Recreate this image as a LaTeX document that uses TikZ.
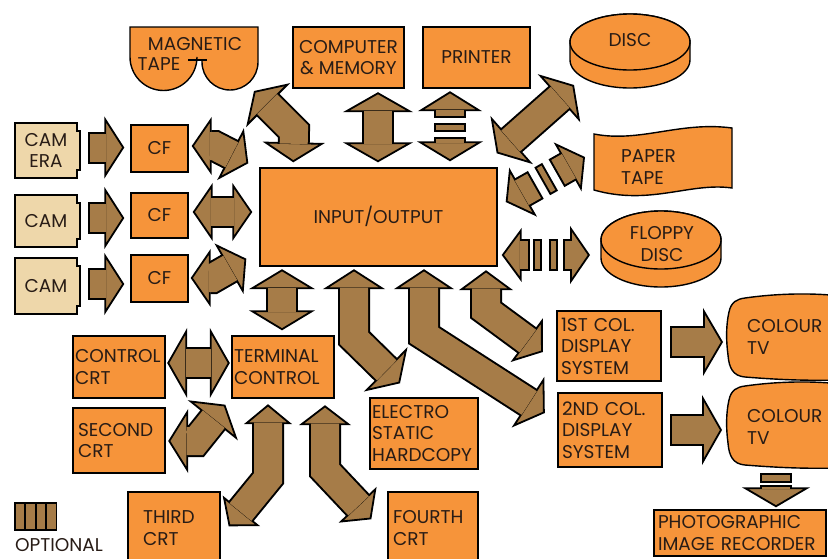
\documentclass[tikz,border=0pt]{standalone}
\usepackage{fontspec}
\setmainfont{Poppins}
\usetikzlibrary{arrows.meta,calc}

\definecolor{orng}{RGB}{246,148,58}
\definecolor{brn}{RGB}{166,124,72}
\definecolor{camtan}{RGB}{238,215,170}
\definecolor{ink}{RGB}{40,28,22}

\newcommand{\lbl}{\fontsize{18.5}{21.5}\selectfont}

\tikzset{
  box/.style={draw=black, line width=1.4pt, fill=orng, text=ink, font=\lbl,
    inner sep=3pt, align=center},
  outline/.style={draw=black, line width=1.4pt, fill=orng},
  txt/.style={text=ink, font=\lbl, inner sep=0pt, align=left},
  pipe/.style={draw=black, line width=32pt, line join=miter,
    >={Triangle[length=20pt, width=#1, fill=brn, color=black, line width=1.8pt]}},
  pipe/.default=64pt,
  twoway/.style={pipe=#1, <->,
    postaction={draw=brn, line width=28pt, arrows=-, shorten <=18.5pt, shorten >=18.5pt}},
  twoway/.default=64pt,
  oneway/.style={pipe=#1, ->,
    postaction={draw=brn, line width=28pt, arrows=-, shorten <=2pt, shorten >=18.5pt}},
  oneway/.default=64pt,
  optbar/.style={draw=black, line width=32pt,
    postaction={draw=brn, line width=28pt, shorten <=2pt, shorten >=2pt}},
}

% camera body with its small step on the right
\newcommand{\camera}[4]{%
  \draw[draw=black, line width=1.4pt, fill=camtan] (15,#2) -- (77,#2) -- (77,#2+8)
    -- (80,#2+8) -- (80,#3-8) -- (77,#3-8) -- (77,#3) -- (15,#3) -- cycle;
  \node[txt, align=center] (#1) at (46,{(#2+#3)/2}) {#4};}

% colour television screen
\newcommand{\telly}[1]{%
  \draw[outline] (745,#1+1) .. controls (780,#1-4) and (815,#1-4) .. (840,#1-1)
    -- (840,#1+83) .. controls (800,#1+84) and (770,#1+82) .. (745,#1+80)
    .. controls (733,#1+79) and (729,#1+71) .. (728,#1+58)
    .. controls (726,#1+43) and (726,#1+28) .. (729,#1+15)
    .. controls (731,#1+5) and (737,#1+2) .. (745,#1+1) -- cycle;}

\begin{document}
\begin{tikzpicture}[x=1pt, y=-1pt]
\useasboundingbox[fill=white] (0,0) rectangle (828,558);

% Top row: storage and computer
\draw[outline] (130,27) -- (258,27) -- (258,62) arc[start angle=0, end angle=180, radius=28]
  -- (202,60) -- (197,60) -- (197,57) arc[start angle=0, end angle=180, radius=33.5] -- cycle;
\draw[line width=1.4pt] (188,60) -- (207,60);
\node[txt] (mag) at (195,44) {MAGNETIC};
\node[txt] (magb) at (159,64) {TAPE};

\node[box, minimum width=111pt, minimum height=61pt] (comp) at (348.5,57.5) {COMPUTER\\\& MEMORY};
\node[box, minimum width=107pt, minimum height=61pt] (prn) at (476.5,57.5) {PRINTER};

\draw[outline] (570,42) -- (570,60) arc[start angle=180, end angle=0, x radius=60, y radius=28]
  -- (690,42) arc[start angle=0, end angle=-180, x radius=60, y radius=28] -- cycle;
\draw[outline] (630,42) ellipse [x radius=60, y radius=28];
\node[txt] (disc) at (630,40) {DISC};

% Right side: paper tape and floppy disc
\draw[outline] (594,134) .. controls (640,143) and (680,121) .. (732,128) -- (732,188)
  .. controls (690,182) and (650,206) .. (594,190) -- cycle;
\node[txt, anchor=west] (ppr) at (621,167) {PAPER\\TAPE};

\draw[outline] (601,240) -- (601,258) arc[start angle=180, end angle=0, x radius=60, y radius=29]
  -- (721,240) arc[start angle=0, end angle=-180, x radius=60, y radius=29] -- cycle;
\draw[outline] (661,240) ellipse [x radius=60, y radius=29];
\node[txt, align=center] (flp) at (662,244) {FLOPPY\\DISC};

% Left column: cameras and CF units
\camera{cam1}{123}{178}{CAM\\ERA}
\camera{cam2}{195}{247}{CAM}
\camera{cam3}{258}{314}{CAM}
\node[box, minimum width=57pt, minimum height=47pt] (cf1) at (159.5,148.5) {CF};
\node[box, minimum width=57pt, minimum height=45pt] (cf2) at (159.5,215.5) {CF};
\node[box, minimum width=57pt, minimum height=47pt] (cf3) at (159.5,278.5) {CF};

% Centre
\node[box, minimum width=237pt, minimum height=98pt] (io) at (378.5,217) {\raisebox{5pt}{INPUT/OUTPUT}};

% Lower part: terminals and displays
\node[box, align=left, text width=88pt, inner xsep=2pt, minimum height=62pt] (ctrl) at (119,367) {CONTROL\\CRT};
\node[box, align=left, text width=82pt, inner xsep=5pt, minimum height=65pt] (sec) at (119,440.5) {SECOND\\CRT};
\node[box, align=left, text width=98pt, inner xsep=2pt, minimum height=62pt] (term) at (283,367) {TERMINAL\\CONTROL};
\node[box, align=left, text width=62pt, inner xsep=15pt, minimum height=72pt] (third) at (174,528) {THIRD\\CRT};
\node[box, align=left, text width=104pt, inner xsep=2pt, minimum height=71pt] (elec) at (424,433.5) {ELECTRO\\STATIC\\HARDCOPY};
\node[box, align=left, text width=80pt, inner xsep=5pt, minimum height=72pt] (fourth) at (433,528) {FOURTH\\CRT};
\node[box, align=left, text width=96pt, inner xsep=4pt, minimum height=70pt] (disp1) at (609,346) {1ST COL.\\DISPLAY\\SYSTEM};
\node[box, align=left, text width=96pt, inner xsep=4pt, minimum height=74pt] (disp2) at (610,430) {2ND COL.\\DISPLAY\\SYSTEM};
\telly{297}
\telly{385}
\node[txt, anchor=west] (tva) at (747,337) {COLOUR\\TV};
\node[txt, anchor=west] (tvb) at (747,427) {COLOUR\\TV};
\node[box, align=left, text width=164pt, inner xsep=4pt, minimum height=46pt] (rec) at (740,533) {PHOTOGRAPHIC\\IMAGE RECORDER};

% Legend
\foreach \x in {15,25.5,36,46.5}
  \draw[fill=brn, line width=1.4pt] (\x,503) rectangle ++(10,27);
\node[txt] (opt) at (59,545) {OPTIONAL};

% Cameras to CF units
\draw[oneway=62pt] ($(cam1)+(42,-3)$) -- ($(cf1.west)+(-6,-1)$);
\draw[oneway=62pt] ($(cam2)+(42,-3)$) -- ($(cf2.west)+(-6,2.5)$);
\draw[oneway=62pt] ($(cam3)+(42,-2)$) -- ($(cf3.west)+(-6,5.5)$);

% CF units to input/output
\draw[twoway=58pt] ($(cf1.east)+(3,-2.5)$) -- ++(23,0) -- ($(io.north west)+(-11,-4)$);
\draw[twoway=58pt] ($(cf2.east)+(4,-3.5)$) -- ($(io.west)+(-7,-5)$);
\draw[twoway=58pt] ($(cf3.east)+(2,-0.5)$) -- ++(22,0) -- ($(io.south west)+(-13,-8)$);

% Top row to input/output
\draw[twoway=62pt] ($(mag)+(59,47)$) -- ++(40,40) -- ($(io.north west)+(34,-5)$);
\draw[twoway=70pt] ($(comp.south)+(29.5,3.5)$) -- ($(io.north)+(-0.5,-5)$);
\coordinate (pp) at ($(prn.south)+(-26.5,0)$);
\draw[oneway=64pt] ($(pp)+(0,29)$) -- ($(pp)+(0,2.5)$);
\draw[optbar] ($(pp)+(0,34.5)$) -- ++(0,9);
\draw[oneway=66pt] ($(pp)+(0,48.5)$) -- ($(io.north)+(71.5,-6)$);
\draw[twoway=64pt] ($(io.north east)+(-1,-14)$) -- ($(disc)+(-56,45)$);

% Paper tape (optional)
\coordinate (pa) at ($(io.east)+(8,-15)$);
\coordinate (pb) at ($(ppr.west)+(-36,-10)$);
\draw[oneway=56pt] ($(pa)!0.38!(pb)$) -- (pa);
\draw[optbar] ($(pa)!0.46!(pb)$) -- ($(pa)!0.56!(pb)$);
\draw[oneway=56pt] ($(pa)!0.64!(pb)$) -- (pb);

% Floppy disc (optional)
\coordinate (fa) at ($(io.east)+(4,38)$);
\coordinate (fb) at ($(flp)+(-72,11)$);
\draw[oneway=54pt] ($(fa)+(28,0)$) -- (fa);
\draw[optbar] ($(fa)+(31,0)$) -- ++(9,0);
\draw[optbar] ($(fa)+(47,0)$) -- ++(9,0);
\draw[oneway=58pt] ($(fb)+(-27,0)$) -- (fb);

% Input/output to the lower units
\draw[twoway=66pt] ($(io.south)+(-96.5,2.5)$) -- ($(term.north)+(-1,-5)$);
\draw[twoway=62pt] ($(io.south)+(-24.5,2.5)$) -- ++(0,69) -- ($(elec.north)+(-24,-14)$);
\draw[twoway=60pt] ($(io.south)+(45.5,2.5)$) -- ++(0,66) -- ($(disp2.west)+(-12.5,-17)$);
\draw[twoway=54pt] ($(io.south)+(107.5,3.5)$) -- ++(0,40) -- ($(disp1.west)+(-13.5,6)$);

% Terminal control to the CRTs
\draw[twoway=70pt] ($(ctrl.east)+(1.5,-4)$) -- ($(term.west)+(-1.5,-4)$);
\draw[twoway=64pt] ($(sec.east)+(2.5,0.5)$) -- ++(28,0) -- ($(term.south west)+(-6,6)$);
\draw[twoway=48pt] ($(term.south)+(-15,5.5)$) -- ++(0,74) -- ($(third.north east)+(8,35)$);
\draw[twoway=52pt] ($(term.south)+(42,6.5)$) -- ++(0,65) -- ($(fourth.north west)+(-16,28)$);

% Displays to colour sets and recorder
\draw[oneway=68pt] ($(disp1.east)+(8.5,-4)$) -- ($(tva.west)+(-24,5)$);
\draw[oneway=70pt] ($(disp2.east)+(7.5,0)$) -- ($(tvb.west)+(-25,3)$);
\draw[optbar] ($(rec.north)+(36,-36)$) -- ++(0,10);
\draw[oneway=68pt] ($(rec.north)+(36,-24)$) -- ($(rec.north)+(36,-2)$);

\end{tikzpicture}
\end{document}
